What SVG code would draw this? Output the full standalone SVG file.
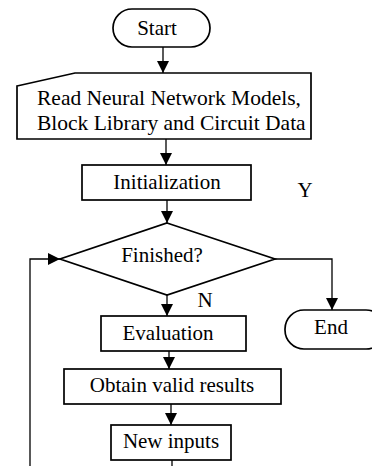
<svg xmlns="http://www.w3.org/2000/svg" width="372" height="466" viewBox="0 0 372 466">
<style>
.s{fill:#fff;stroke:#000;stroke-width:1.7}
.c{fill:none;stroke:#000;stroke-width:1.3}
text{font-family:"Liberation Serif","Times New Roman",serif;font-size:21px;fill:#000}
.m{text-anchor:middle}
.w{font-size:21.5px}
</style>
<defs>
<marker id="ah" markerUnits="userSpaceOnUse" markerWidth="12" markerHeight="12" viewBox="0 0 12 12" refX="12" refY="6" orient="auto">
<path d="M0,0 L12,6 L0,12 Z" fill="#000"/>
</marker>
</defs>
<g id="connectors">
<path class="c" d="M163,47 V73" marker-end="url(#ah)"/>
<path class="c" d="M166,139 V165" marker-end="url(#ah)"/>
<path class="c" d="M167,200 V223" marker-end="url(#ah)"/>
<path class="c" d="M275,259 H332 V310" marker-end="url(#ah)"/>
<path class="c" d="M167,295 V316" marker-end="url(#ah)"/>
<path class="c" d="M169,351 V369" marker-end="url(#ah)"/>
<path class="c" d="M171,404 V425" marker-end="url(#ah)"/>
<path class="c" d="M172,460 V466"/>
<path class="c" d="M30,466 V259 H60" marker-end="url(#ah)"/>
</g>
<g id="start">
<rect class="s" x="113" y="9" width="97" height="38" rx="19"/>
<text class="m" x="157" y="35">Start</text>
</g>
<g id="read">
<path class="s" d="M17,86 L75,73 H311 V139 H17 Z"/>
<text class="w" x="37" y="105">Read Neural Network Models,</text>
<text class="w" x="37" y="130">Block Library and Circuit Data</text>
</g>
<g id="init">
<rect class="s" x="82" y="165" width="169" height="35"/>
<text class="m" x="167" y="189">Initialization</text>
</g>
<g id="finished">
<path class="s" d="M167,223 L275,259 L167,295 L60,259 Z"/>
<text class="m" x="162" y="262">Finished?</text>
</g>
<g id="labels">
<text class="m" x="305" y="197">Y</text>
<text class="m" x="205" y="307">N</text>
</g>
<g id="evaluation">
<rect class="s" x="101" y="316" width="145" height="35"/>
<text class="m" x="168" y="340">Evaluation</text>
</g>
<g id="end">
<rect class="s" x="285" y="310" width="100" height="39" rx="19"/>
<text class="m" x="331" y="334">End</text>
</g>
<g id="obtain">
<rect class="s" x="64" y="369" width="217" height="35"/>
<text class="m" x="172" y="392">Obtain valid results</text>
</g>
<g id="newinputs">
<rect class="s" x="111" y="425" width="120" height="35"/>
<text class="m" x="171" y="448">New inputs</text>
</g>
</svg>
